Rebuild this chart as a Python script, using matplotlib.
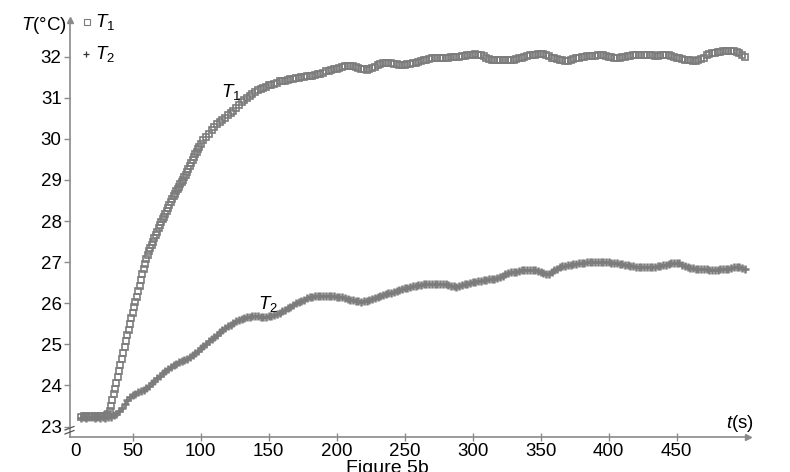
import numpy as np
import matplotlib
matplotlib.use('Agg')
import matplotlib.pyplot as plt
from matplotlib.lines import Line2D

plt.rcParams['font.family'] = ['Liberation Sans', 'DejaVu Sans']
plt.rcParams['mathtext.fontset'] = 'custom'
plt.rcParams['mathtext.rm'] = 'Liberation Sans'
plt.rcParams['mathtext.it'] = 'Liberation Sans:italic'
plt.rcParams['mathtext.bf'] = 'Liberation Sans:bold'

# ---------------- data ----------------
t1 = np.concatenate([np.arange(12, 31, 2), np.arange(31, 101), np.arange(102, 501, 2)])
T1 = [
    23.24, 23.26, 23.25, 23.24, 23.26, 23.25, 23.24, 23.26, 23.25, 23.25,
    # 31..100 (1 s)
    23.27, 23.30, 23.38, 23.50, 23.64, 23.78, 23.92, 24.07, 24.21, 24.36,
    24.50, 24.65, 24.79, 24.94, 25.08, 25.22, 25.36, 25.50, 25.63, 25.77,
    25.90, 26.02, 26.15, 26.30, 26.43, 26.56, 26.70, 26.83, 26.96, 27.08,
    27.17, 27.26, 27.34, 27.42, 27.50, 27.58, 27.66, 27.74, 27.82, 27.90,
    27.97, 28.04, 28.11, 28.18, 28.25, 28.32, 28.39, 28.46, 28.53, 28.60,
    28.66, 28.72, 28.78, 28.84, 28.90, 28.95, 29.01, 29.07, 29.13, 29.20,
    29.27, 29.35, 29.42, 29.49, 29.56, 29.62, 29.69, 29.75, 29.81, 29.88,
    # 102..500 (2 s)
    29.97, 30.05, 30.13, 30.21, 30.28, 30.35, 30.41, 30.47, 30.52, 30.57,
    30.62, 30.68, 30.75, 30.82, 30.89, 30.95, 31.00, 31.05, 31.10,
    31.14, 31.18, 31.21, 31.24, 31.27, 31.30, 31.32, 31.34, 31.37, 31.40,
    31.41, 31.42, 31.43, 31.45, 31.45, 31.47, 31.48, 31.50, 31.51, 31.52,
    31.53, 31.54, 31.56, 31.57, 31.59, 31.61, 31.64, 31.66, 31.68, 31.70,
    31.71, 31.73, 31.75, 31.77, 31.78, 31.78, 31.77, 31.75, 31.73, 31.71,
    31.69, 31.68, 31.69, 31.72, 31.76, 31.79, 31.82, 31.84, 31.85, 31.85,
    31.84, 31.83, 31.82, 31.81, 31.81, 31.81, 31.82, 31.83, 31.84, 31.85,
    31.87, 31.89, 31.91, 31.93, 31.95, 31.96, 31.97, 31.97, 31.97, 31.97,
    31.97, 31.98, 31.99, 32.00, 32.00, 32.00, 32.01, 32.02, 32.03, 32.04,
    32.05, 32.06, 32.05, 32.04, 32.01, 31.98, 31.95, 31.93, 31.92, 31.92,
    31.92, 31.92, 31.92, 31.92, 31.92, 31.93, 31.94, 31.96, 31.98, 32.00,
    32.02, 32.03, 32.04, 32.05, 32.06, 32.06, 32.06, 32.04, 32.01, 31.98,
    31.96, 31.94, 31.92, 31.91, 31.90, 31.90, 31.92, 31.94, 31.96, 31.98,
    31.99, 32.00, 32.01, 32.01, 32.02, 32.02, 32.03, 32.03, 32.03, 32.02,
    32.00, 31.99, 31.98, 31.98, 31.98, 31.99, 32.00, 32.01, 32.02, 32.03,
    32.04, 32.05, 32.05, 32.05, 32.04, 32.03, 32.03, 32.02, 32.02, 32.03,
    32.03, 32.04, 32.03, 32.02, 32.00, 31.98, 31.97, 31.95, 31.93, 31.92,
    31.91, 31.90, 31.90, 31.91, 31.94, 31.98, 32.03, 32.07, 32.09, 32.10,
    32.11, 32.12, 32.13, 32.14, 32.15, 32.15, 32.14, 32.12, 32.09, 32.05,
    32.00,
]

t2 = np.arange(12, 501, 2)
T2 = [
    23.21, 23.22, 23.20, 23.22, 23.23, 23.21, 23.22, 23.20, 23.22, 23.21, 23.22,
    23.24, 23.27, 23.31, 23.37, 23.45, 23.55, 23.65, 23.72, 23.77, 23.80,
    23.83, 23.86, 23.89, 23.93, 23.99, 24.05, 24.11, 24.18, 24.24, 24.30,
    24.36, 24.41, 24.46, 24.50, 24.53, 24.56, 24.59, 24.62, 24.65, 24.69,
    24.74, 24.79, 24.85, 24.90, 24.96, 25.02, 25.07, 25.12, 25.17, 25.23,
    25.29, 25.35, 25.40, 25.44, 25.48, 25.52, 25.56, 25.59, 25.62, 25.64,
    25.66, 25.67, 25.68, 25.68, 25.68, 25.67, 25.67, 25.67, 25.68, 25.69,
    25.71, 25.73, 25.76, 25.80, 25.84, 25.88, 25.92, 25.96, 26.00, 26.03,
    26.06, 26.09, 26.12, 26.14, 26.16, 26.17, 26.18, 26.18, 26.18, 26.18,
    26.18, 26.17, 26.17, 26.16, 26.15, 26.14, 26.12, 26.10, 26.09, 26.08,
    26.06, 26.05, 26.04, 26.05, 26.06, 26.08, 26.10, 26.12, 26.15, 26.17,
    26.20, 26.22, 26.24, 26.26, 26.28, 26.30, 26.32, 26.34, 26.36, 26.38,
    26.40, 26.42, 26.43, 26.44, 26.45, 26.46, 26.47, 26.48, 26.48, 26.48,
    26.48, 26.47, 26.47, 26.46, 26.44, 26.42, 26.41, 26.40, 26.42, 26.44,
    26.46, 26.48, 26.50, 26.51, 26.52, 26.53, 26.54, 26.56, 26.57, 26.58,
    26.59, 26.60, 26.61, 26.63, 26.67, 26.71, 26.73, 26.75, 26.76, 26.77,
    26.78, 26.80, 26.81, 26.82, 26.82, 26.81, 26.80, 26.79, 26.77, 26.73,
    26.70, 26.72, 26.76, 26.80, 26.84, 26.87, 26.90, 26.91, 26.93, 26.94,
    26.95, 26.96, 26.97, 26.98, 26.99, 27.00, 27.00, 27.01, 27.01, 27.01,
    27.01, 27.01, 27.00, 27.00, 26.99, 26.99, 26.98, 26.96, 26.95, 26.94,
    26.92, 26.91, 26.90, 26.89, 26.89, 26.89, 26.89, 26.89, 26.89, 26.89,
    26.89, 26.90, 26.91, 26.92, 26.93, 26.95, 26.97, 26.99, 26.99, 26.97,
    26.94, 26.91, 26.88, 26.86, 26.85, 26.84, 26.84, 26.83, 26.83, 26.83,
    26.82, 26.82, 26.82, 26.82, 26.83, 26.83, 26.84, 26.84, 26.85, 26.87,
    26.88, 26.87, 26.85, 26.83,
]

yticks = [23, 24, 25, 26, 27, 28, 29, 30, 31, 32]
xticks = [50, 100, 150, 200, 250, 300, 350, 400, 450]
xtick_labels = ['50', '100', '150', '200', '250', '300', '350', '400', '450']

# ---------------- figure ----------------
W, H = 790, 472
FS = 13.5
fig = plt.figure(figsize=(W / 100, H / 100), dpi=100)
ax = fig.add_axes([70 / W, 35 / H, 678 / W, 417 / H])
ax.set_xlim(3.9, 502.4)
ax.set_ylim(22.745, 32.893)

gray = '#7c7c7c'
axcol = '#8a8a8a'

ax.plot(t2, T2, linestyle='none', marker='+', markersize=6, markeredgewidth=1.8,
        color=gray, clip_on=False)
ax.plot(t1, T1, linestyle='none', marker='s', markersize=4.0, markeredgewidth=1.2,
        markerfacecolor='none', markeredgecolor=gray, clip_on=False)

for s in ['top', 'right']:
    ax.spines[s].set_visible(False)
for s in ['left', 'bottom']:
    ax.spines[s].set_color(axcol)
    ax.spines[s].set_linewidth(1.2)

ax.set_yticks(yticks)
ax.set_yticklabels([str(v) for v in yticks])
ax.set_xticks(xticks)
ax.set_xticklabels(xtick_labels)
ax.tick_params(axis='y', direction='out', length=4, width=1, color=axcol,
               labelsize=FS, pad=2)
ax.tick_params(axis='x', direction='inout', length=6, width=1, color=axcol,
               labelsize=FS, pad=1)

# "0" label right of the y axis
ax.annotate('0', xy=(7.6, 0), xycoords=('data', 'axes fraction'),
            xytext=(0, -4), textcoords='offset points', ha='center', va='top',
            fontsize=FS)

# arrowheads
ax.plot([1], [0], marker='>', markersize=4, color=axcol, transform=ax.transAxes,
        clip_on=False)
ax.plot([0], [1], marker='^', markersize=4, color=axcol, transform=ax.transAxes,
        clip_on=False)

# axis break mark
for dy in (0, 4):
    fig.add_artist(Line2D([65 / W, 74 / W], [(472 - 430 - dy) / H, (472 - 426.5 - dy) / H],
                          transform=fig.transFigure, color='#555555', lw=0.9))

# axis titles
fig.text(67 / W, (H - 25) / H, '$T$(°C)', ha='right', va='center', fontsize=FS)
fig.text(754 / W, (H - 423) / H, '$t$(s)', ha='right', va='center', fontsize=FS)

# legend
ax.plot([0.0251], [0.9952], marker='s', markersize=5, markerfacecolor='none',
        markeredgecolor=gray, markeredgewidth=0.8, transform=ax.transAxes, clip_on=False)
ax.text(0.0369, 0.9952, '$T_1$', transform=ax.transAxes, ha='left', va='center',
        fontsize=FS)
ax.plot([0.0236], [0.918], marker='+', markersize=5, markeredgecolor='#333333',
        markeredgewidth=0.9, transform=ax.transAxes, clip_on=False)
ax.text(0.0369, 0.918, '$T_2$', transform=ax.transAxes, ha='left', va='center',
        fontsize=FS)

# inline labels
ax.text(122.3, 31.14, '$T_1$', ha='center', va='center', fontsize=FS)
ax.text(149.5, 25.98, '$T_2$', ha='center', va='center', fontsize=FS)

# caption (partly cut off at bottom, as in the source)
fig.text(387 / W, (H - 460) / H, 'Figure 5b', ha='center', va='top', fontsize=14)

fig.savefig('out.png', dpi=100)
